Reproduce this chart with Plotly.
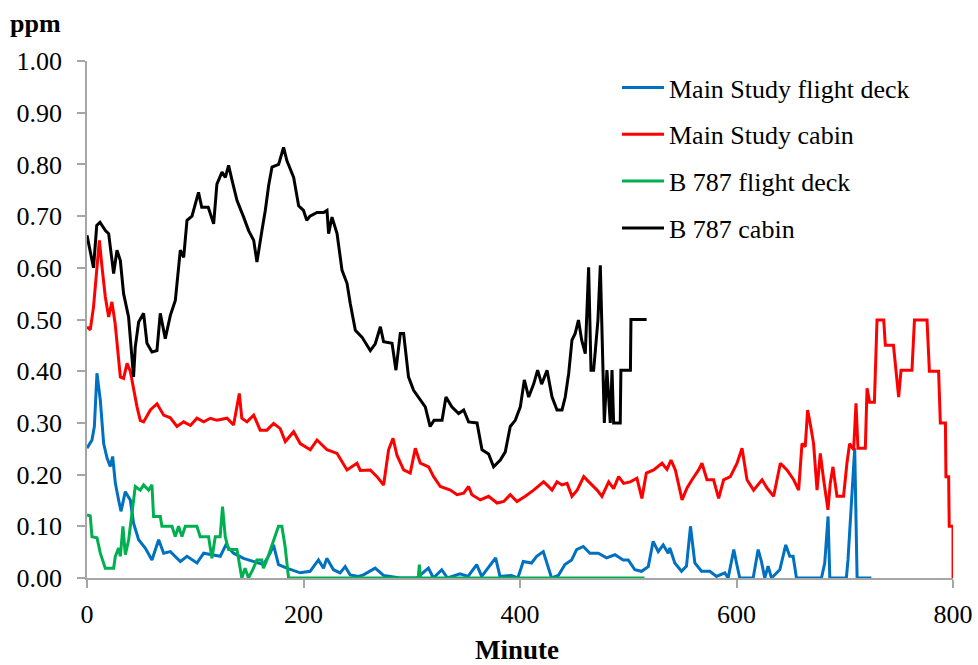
import plotly.graph_objects as go

# ---- data ----
blue_min = [0, 4.6, 6.8, 9.2, 12.3, 15.4, 18.5, 21.5, 23.7, 26.2, 29.2, 31.4, 35.4, 40, 43, 47.7, 53.8, 60,
            66.2, 70.8, 77, 81.6, 86.2, 92.4, 101.6, 107.8, 117, 123.1, 128.3, 135.4, 144.6, 153.9, 163.1,
            169.2, 172.3, 176.9, 184.6, 196.9, 206.1, 213.8, 218.5, 221.5, 227.7, 233.8, 238.5, 243.1, 250.8,
            255.4, 266.2, 273.9, 289.3, 304.7, 315.4, 320, 327.7, 333, 344.6, 352, 360, 364.6, 377.5, 381.5,
            392, 398, 403, 410.7, 415.4, 421.5, 424.6, 429.2, 435.4, 441.5, 447.7, 452.3, 458.5, 464.6, 472.3,
            480, 487.7, 495.4, 500, 506.1, 512.3, 518.5, 523, 527.7, 532.3, 536.9, 538.4, 543, 549.2, 553.8,
            557.5, 561.5, 567.7, 575.4, 581.5, 589.2, 592.3, 597.5, 600, 603, 615.4, 620, 623, 626.1, 629.2,
            632.3, 640, 645.5, 649.2, 652.3, 655.4, 678.5, 681.5, 684.6, 686.2, 701.5, 703, 706.2, 709.2,
            711.4, 724.6]
blue_val = [0.251, 0.267, 0.293, 0.396, 0.344, 0.26, 0.232, 0.216, 0.235, 0.183, 0.151, 0.129, 0.167, 0.151,
            0.106, 0.074, 0.058, 0.035, 0.074, 0.048, 0.051, 0.042, 0.032, 0.042, 0.029, 0.048, 0.045, 0.042,
            0.064, 0.048, 0.038, 0.032, 0.026, 0.048, 0.064, 0.026, 0.019, 0.01, 0.013, 0.035, 0.019, 0.038,
            0.016, 0.01, 0.022, 0.006, 0.003, 0.006, 0.019, 0.005, 0.0, 0.0, 0.019, 0.0, 0.016, 0.0, 0.008,
            0.003, 0.026, 0.003, 0.039, 0.003, 0.005, 0.0, 0.032, 0.029, 0.042, 0.051, 0.029, 0.0, 0.005, 0.026,
            0.035, 0.055, 0.061, 0.048, 0.048, 0.039, 0.045, 0.035, 0.035, 0.016, 0.013, 0.022, 0.071, 0.051,
            0.064, 0.048, 0.058, 0.029, 0.013, 0.023, 0.10, 0.029, 0.013, 0.013, 0.003, 0.01, 0.0, 0.055, 0.029,
            0.0, 0.0, 0.055, 0.032, 0.0, 0.023, 0.0, 0.016, 0.064, 0.042, 0.042, 0.0, 0.0, 0.029, 0.119, 0.0,
            0.0, 0.035, 0.148, 0.251, 0.0, 0.0]

red_min = [0, 3, 6, 9.2, 11.4, 13.9, 16.9, 20, 23, 26, 27.7, 30.8, 33.8, 37, 40, 43, 46.2, 49.2, 52.3, 58.5,
           64.7, 70.8, 77, 83.1, 89.3, 95.5, 101.6, 107.8, 114, 120, 129.4, 135.4, 140.7, 143, 147.8, 154, 160,
           166.2, 172.4, 178.5, 183.2, 190.9, 197, 206.3, 212.5, 221.7, 231, 240.2, 249.4, 252.5, 261.7, 267.9,
           274, 278.6, 282.7, 286.4, 292.5, 298.6, 303.3, 307.9, 315.6, 320.2, 326.4, 335.6, 341.8, 348, 352.5,
           355.6, 363.3, 371, 378.8, 385, 391, 397.2, 404.9, 412.6, 421.8, 424.9, 429.6, 434.2, 438.8, 443.5,
           448, 452.8, 458.9, 465, 471.2, 475.7, 481.9, 486.5, 491.1, 495.7, 501.9, 508, 512.6, 516.7, 523.5,
           531.2, 535.8, 539.5, 543.5, 549.7, 554.3, 558.9, 565, 568.1, 572.7, 578.8, 583.5, 588.1, 594.3,
           600.5, 605.1, 609.7, 615.8, 623.6, 628.2, 634.3, 640.5, 646.6, 652.8, 657.4, 660.5, 663.5, 665.7,
           668.8, 671.2, 674.4, 677.4, 680.5, 684.5, 686.6, 689.1, 692.8, 698.9, 702, 704.5, 708.2, 710.4,
           712.2, 719, 720.6, 723, 727.4, 729.8, 736, 737.5, 745, 747.4, 749.8, 752, 762.1, 764.4, 776, 778.2,
           786.7, 788.3, 793, 793.5, 796, 796.5, 800, 800.05]
red_val = [0.486, 0.48, 0.524, 0.608, 0.653, 0.601, 0.544, 0.505, 0.534, 0.492, 0.45, 0.389, 0.386, 0.415,
           0.40, 0.363, 0.331, 0.305, 0.302, 0.325, 0.337, 0.315, 0.31, 0.293, 0.302, 0.295, 0.309, 0.302,
           0.309, 0.305, 0.309, 0.296, 0.357, 0.309, 0.302, 0.315, 0.286, 0.286, 0.299, 0.289, 0.264, 0.283,
           0.26, 0.248, 0.267, 0.248, 0.241, 0.209, 0.222, 0.208, 0.209, 0.196, 0.18, 0.248, 0.27, 0.237, 0.209,
           0.203, 0.251, 0.222, 0.215, 0.196, 0.177, 0.17, 0.161, 0.164, 0.177, 0.161, 0.151, 0.158, 0.145,
           0.148, 0.161, 0.148, 0.158, 0.17, 0.186, 0.18, 0.17, 0.186, 0.18, 0.183, 0.158, 0.17, 0.196, 0.183,
           0.17, 0.158, 0.186, 0.173, 0.196, 0.183, 0.186, 0.193, 0.154, 0.203, 0.209, 0.222, 0.21, 0.228,
           0.209, 0.151, 0.174, 0.19, 0.209, 0.222, 0.19, 0.19, 0.154, 0.19, 0.196, 0.222, 0.251, 0.19, 0.17,
           0.19, 0.174, 0.158, 0.222, 0.209, 0.19, 0.17, 0.26, 0.254, 0.325, 0.29, 0.26, 0.17, 0.241, 0.19,
           0.132, 0.183, 0.215, 0.158, 0.158, 0.222, 0.26, 0.248, 0.338, 0.251, 0.251, 0.367, 0.34, 0.34, 0.499,
           0.499, 0.45, 0.45, 0.402, 0.35, 0.402, 0.402, 0.499, 0.499, 0.40, 0.40, 0.30, 0.30, 0.196, 0.196,
           0.10, 0.10, 0.0]

green_min = [0, 3, 4.6, 9.2, 12.3, 16.9, 24.6, 26.2, 29.2, 30.8, 33.2, 35.4, 38.5, 41.5, 44.6, 49.2, 52.3,
             56.9, 60, 61.5, 67.7, 69.2, 78.5, 81.5, 84.6, 87.7, 90.8, 101.5, 104.6, 112.3, 115.4, 118.5, 123,
             125.2, 127.7, 130.8, 138.5, 141.5, 143, 146, 149.2, 153.8, 156.9, 161.5, 163, 166.2, 172.3, 176.9,
             180, 183, 186.2, 306, 307, 308, 515]
green_val = [0.122, 0.12, 0.08, 0.078, 0.048, 0.019, 0.019, 0.042, 0.058, 0.042, 0.10, 0.045, 0.074, 0.125,
             0.177, 0.17, 0.18, 0.17, 0.18, 0.119, 0.119, 0.10, 0.10, 0.08, 0.10, 0.08, 0.10, 0.10, 0.08, 0.08,
             0.038, 0.08, 0.08, 0.138, 0.08, 0.055, 0.055, 0.019, 0.0, 0.019, 0.0, 0.019, 0.035, 0.035, 0.019,
             0.035, 0.074, 0.10, 0.10, 0.061, 0.0, 0.0, 0.026, 0.0, 0.0]

black_min = [0, 6, 9, 12, 17, 20, 24.6, 27.7, 30.8, 33.8, 38.4, 40, 43, 44.6, 47.7, 52.3, 55.4, 60, 64.6,
             67.7, 72.3, 77, 81.6, 86.2, 89.3, 92.4, 97, 103, 106, 112, 117, 120, 124.7, 127.8, 130.8, 133.9,
             138.6, 144.7, 149.3, 154, 157, 161.6, 164.7, 167.8, 170.9, 177, 181.6, 184.7, 190.9, 195.5, 200,
             203, 206, 212.5, 218.6, 221.7, 223.2, 226.3, 231, 235.6, 240.2, 243.2, 247.9, 254, 261.7, 266.3,
             271, 274, 281.8, 285.4, 289.4, 292.5, 297, 301.7, 307.9, 312.5, 317, 320.6, 328, 331.6, 337,
             343.3, 348, 352.5, 360.3, 364.9, 371, 375.6, 381.8, 386.4, 391, 395.6, 400.3, 404, 408, 412.6,
             416.3, 420, 425, 429.6, 434.2, 438.8, 441.8, 445, 448, 451, 454, 457, 460.3, 463.4, 465.6, 468,
             469.6, 472, 474.2, 476.7, 477.9, 480.3, 483.4, 485, 486.5, 492.6, 493.2, 502, 502.5, 517]
black_val = [0.663, 0.60, 0.682, 0.688, 0.672, 0.666, 0.589, 0.634, 0.614, 0.55, 0.505, 0.466, 0.389, 0.447,
             0.495, 0.512, 0.454, 0.437, 0.44, 0.512, 0.463, 0.508, 0.537, 0.634, 0.62, 0.692, 0.70, 0.746,
             0.717, 0.717, 0.685, 0.762, 0.785, 0.775, 0.798, 0.77, 0.73, 0.698, 0.672, 0.653, 0.611, 0.672,
             0.711, 0.759, 0.795, 0.80, 0.833, 0.807, 0.775, 0.72, 0.711, 0.692, 0.70, 0.707, 0.707, 0.711,
             0.666, 0.698, 0.666, 0.595, 0.57, 0.531, 0.479, 0.466, 0.44, 0.453, 0.486, 0.457, 0.454, 0.402,
             0.473, 0.473, 0.389, 0.363, 0.344, 0.331, 0.293, 0.305, 0.305, 0.35, 0.331, 0.318, 0.325, 0.302,
             0.30, 0.248, 0.24, 0.215, 0.228, 0.244, 0.293, 0.305, 0.331, 0.383, 0.35, 0.375, 0.402, 0.375,
             0.402, 0.35, 0.325, 0.325, 0.35, 0.396, 0.46, 0.473, 0.499, 0.46, 0.434, 0.601, 0.402, 0.402, 0.44,
             0.499, 0.605, 0.402, 0.30, 0.402, 0.30, 0.402, 0.30, 0.30, 0.402, 0.402, 0.50, 0.50]

names = ["Main Study flight deck", "Main Study cabin", "B 787 flight deck", "B 787 cabin"]
colors = ["#0070C0", "#FF0000", "#00B050", "#000000"]
y_ticks = [0.0, 0.1, 0.2, 0.3, 0.4, 0.5, 0.6, 0.7, 0.8, 0.9, 1.0]
x_ticks = [0, 200, 400, 600, 800]

FONT = "Liberation Serif, Times New Roman, serif"

fig = go.Figure()
series = [(blue_min, blue_val), (red_min, red_val), (green_min, green_val), (black_min, black_val)]
for i, ((xs, ys), name, col) in enumerate(zip(series, names, colors)):
    fig.add_trace(go.Scatter(x=xs, y=ys, mode="lines", name=name, legendgroup=str(i),
                             line=dict(color=col, width=3), hoverinfo="skip"))

axis_common = dict(showgrid=False, zeroline=False, showline=True, linecolor="#a6a6a6", linewidth=1.5,
                   ticks="outside", ticklen=8, tickcolor="#a6a6a6", tickwidth=1.5, automargin=False,
                   tickfont=dict(family=FONT, size=26, color="black"))

fig.update_layout(
    width=978, height=665,
    margin=dict(l=87, r=25, t=61, b=87),
    paper_bgcolor="white", plot_bgcolor="white",
    font=dict(family=FONT, size=26, color="black"),
    showlegend=True,
    legend=dict(x=0.612, y=0.994, xanchor="left", yanchor="top",
                font=dict(family=FONT, size=26, color="black"),
                traceorder="grouped", tracegroupgap=10, itemwidth=42,
                bgcolor="rgba(0,0,0,0)"),
    xaxis=dict(range=[0, 800], tickvals=x_ticks, ticktext=[str(v) for v in x_ticks],
               ticklabelstandoff=4, **axis_common),
    yaxis=dict(range=[0, 1.0], tickvals=y_ticks, ticktext=[f"{v:.2f}" for v in y_ticks],
               ticklabelstandoff=10, **axis_common),
    annotations=[
        dict(text="<b>ppm</b>", xref="paper", yref="paper", x=-0.091, y=1.073,
             xanchor="left", yanchor="middle", showarrow=False,
             font=dict(family=FONT, size=26, color="black")),
        dict(text="<b>Minute</b>", xref="paper", yref="paper", x=0.497, y=-0.139,
             xanchor="center", yanchor="middle", showarrow=False,
             font=dict(family=FONT, size=27, color="black")),
    ],
)

fig.write_html("out.html")
